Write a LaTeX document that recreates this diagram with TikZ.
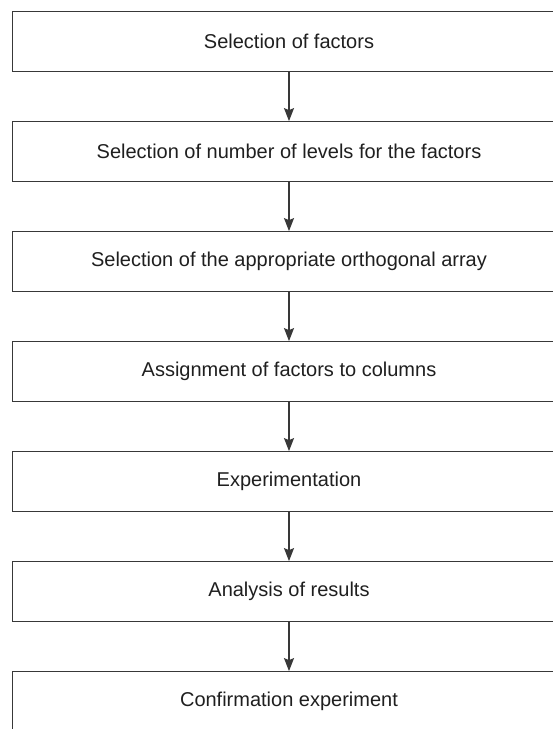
\documentclass[tikz,border=0pt]{standalone}
\usepackage{fontspec}
\setmainfont{Liberation Sans}
\usetikzlibrary{arrows.meta}
\begin{document}
\begin{tikzpicture}[x=1pt, y=-1pt,
  block/.style={shape=rectangle, draw=black!78, line width=1.2pt, minimum width=553pt,
    minimum height=60pt, inner sep=0pt, text=black!88, font=\fontsize{20}{24}\selectfont},
  flow/.style={draw=black!78, line width=1.2pt, -{Stealth[length=13pt, width=10pt, inset=2pt]}}]
    \useasboundingbox (0,0) rectangle (553,729);
    \clip (0,0) rectangle (553,729);
    \node (factors) at (289,41.7) [block] {Selection of factors};
    \node (levels) at (289,151.7) [block] {Selection of number of levels for the factors};
    \node (array) at (289,261.7) [block] {Selection of the appropriate orthogonal array};
    \node (assign) at (289,371.7) [block] {Assignment of factors to columns};
    \node (expt) at (289,481.7) [block] {Experimentation};
    \node (analysis) at (289,591.7) [block] {Analysis of results};
    \node (confirm) at (289,701.7) [block] {Confirmation experiment};
    %arrows between the steps
    \draw[flow] (factors) -- (levels);
    \draw[flow] (levels) -- (array);
    \draw[flow] (array) -- (assign);
    \draw[flow] (assign) -- (expt);
    \draw[flow] (expt) -- (analysis);
    \draw[flow] (analysis) -- (confirm);
  \end{tikzpicture}
\end{document}
